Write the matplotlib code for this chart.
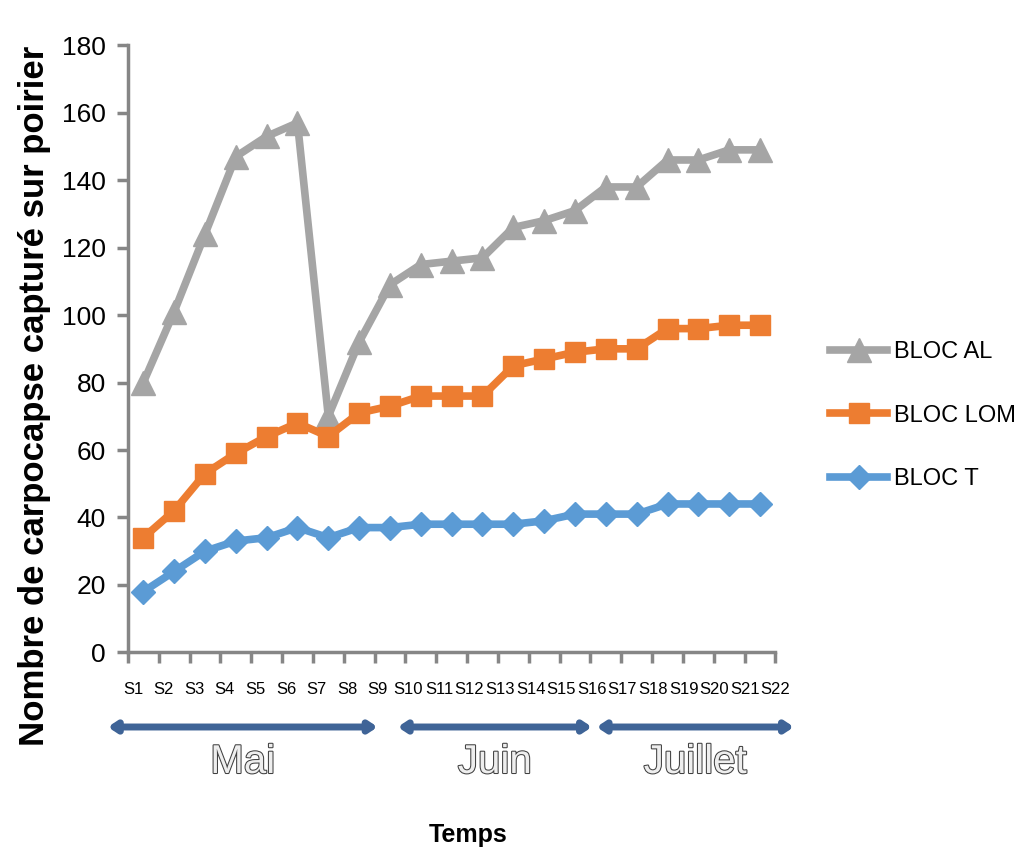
import matplotlib
matplotlib.use('Agg')
import matplotlib.pyplot as plt
import matplotlib.patheffects as pe
import numpy as np

plt.rcParams['font.family'] = ['Liberation Sans', 'DejaVu Sans']

weeks = ['S%d' % i for i in range(1, 23)]
bloc_al = [80, 101, 124, 147, 153, 157, 70, 92, 109, 115, 116, 117,
           126, 128, 131, 138, 138, 146, 146, 149, 149]
bloc_lom = [34, 42, 53, 59, 64, 68, 64, 71, 73, 76, 76, 76,
            85, 87, 89, 90, 90, 96, 96, 97, 97]
bloc_t = [18, 24, 30, 33, 34, 37, 34, 37, 37, 38, 38, 38,
          38, 39, 41, 41, 41, 44, 44, 44, 44]
months = ['Mai', 'Juin', 'Juillet']
month_spans = [(-1.15, 7.6), (8.25, 14.55), (14.7, 21.1)]

fig = plt.figure(figsize=(10.23, 8.55), dpi=100)
ax = fig.add_axes([0.125, 0.237, 0.633, 0.71])

x = np.arange(len(bloc_al))
ax.plot(x, bloc_al, color='#A5A5A5', lw=5.5, marker='^', ms=17, label='BLOC AL')
ax.plot(x, bloc_lom, color='#ED7D31', lw=5.5, marker='s', ms=15, label='BLOC LOM')
ax.plot(x, bloc_t, color='#5B9BD5', lw=5.5, marker='D', ms=12, label='BLOC T')

ax.set_ylim(0, 180)
ax.set_yticks(np.arange(0, 181, 20))
ax.set_xlim(-0.5, len(x) - 0.5)
ax.set_xticks(np.arange(-0.5, len(x) + 0.5, 1))
ax.set_xticklabels([])
ax.tick_params(axis='both', color='#868686', width=2.5, length=8, direction='out')
ax.tick_params(axis='y', labelsize=19, pad=8)
for s in ['top', 'right']:
    ax.spines[s].set_visible(False)
for s in ['left', 'bottom']:
    ax.spines[s].set_color('#868686')
    ax.spines[s].set_linewidth(2.5)

ax.set_ylabel('Nombre de carpocapse capturé sur poirier', fontsize=25,
              fontweight='bold')
ax.yaxis.set_label_coords(-0.118, 0.423)

# week labels under the axis
trans = matplotlib.transforms.blended_transform_factory(ax.transData, fig.transFigure)
for lab, xp in zip(weeks, np.linspace(-0.33, 20.5, len(weeks))):
    ax.text(xp, 1 - 690 / 855, lab, transform=trans, fontsize=12,
            ha='center', va='center')

# month arrows
for name, (a, b) in zip(months, month_spans):
    ax.annotate('', xy=(a, 1 - 727 / 855), xytext=(b, 1 - 727 / 855),
                xycoords=trans, textcoords=trans, annotation_clip=False,
                arrowprops=dict(arrowstyle='<|-|>,head_length=0.45,head_width=0.3',
                                color='#3F6497', lw=5, shrinkA=0, shrinkB=0))
    ax.text((a + b) / 2, 1 - 762 / 855, name, transform=trans, fontsize=29,
            ha='center', va='center', color='#eeeeee',
            path_effects=[pe.Stroke(linewidth=1.5, foreground='#404040'), pe.Normal()])

fig.text(468 / 1023, 1 - 835 / 855, 'Temps', fontsize=18, fontweight='bold',
         ha='center', va='center')

ax.legend(loc='center left', bbox_to_anchor=(1.052, 0.39), frameon=False,
          fontsize=17, handlelength=2.4, labelspacing=1.75, handletextpad=0.3)

fig.savefig('out.png', dpi=100)
